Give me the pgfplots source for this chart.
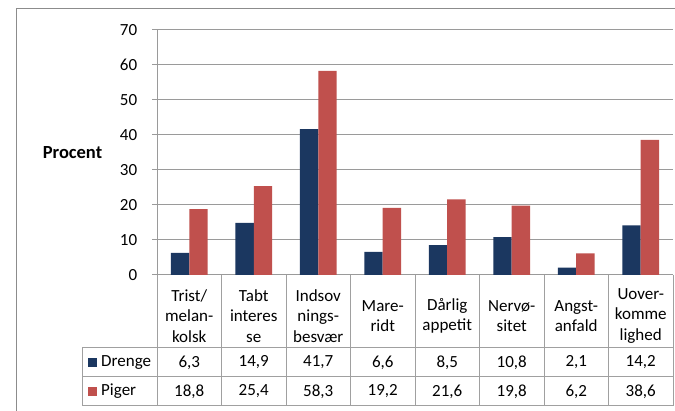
\documentclass[border=0pt]{standalone}
\usepackage{pgfplots}
\pgfplotsset{compat=1.18}
\usepackage{fontspec}
\setmainfont{Carlito}
\definecolor{boys}{HTML}{1B3760}
\definecolor{girls}{HTML}{C0504D}
\definecolor{gridc}{HTML}{9A9A9A}
\definecolor{tabc}{HTML}{A0A0A0}
\definecolor{framec}{HTML}{8C8C8C}
\begin{document}
\fontsize{17}{20.5}\selectfont
\begin{tikzpicture}[x=1pt,y=1pt]
\useasboundingbox (0,0) rectangle (675,411);
\fill[white] (0,0) rectangle (675,411);
\draw[framec, line width=1pt] (16,0) -- (16,402) -- (676,402);
\begin{axis}[
  at={(157pt,136pt)}, anchor=south west, scale only axis,
  width=516pt, height=245pt,
  ybar=0pt, bar width=18.3pt,
  xmin=-0.5, xmax=7.5, ymin=0, ymax=70,
  ytick distance=10, xtick={0,...,7},
  xticklabels={{Trist/\\melan-\\kolsk},{Tabt\\interes\\se},{Indsov\\nings-\\besvær},{Mare-\\ridt},{Dårlig\\appetit},{Nervø-\\sitet},{Angst-\\anfald},{Uover-\\komme\\lighed}},
  tick label style={font=\fontsize{17}{20.5}\selectfont},
  xticklabel style={align=center, anchor=center, yshift=-36pt},
  x tick style={draw=none},
  axis x line*=bottom, axis y line*=left,
  axis line style={gridc, line width=1pt, -},
  ymajorgrids, grid style={gridc, line width=1pt},
  y tick style={gridc, line width=1pt},
  tick align=outside, major tick length=5pt,
  yticklabel style={xshift=-9pt},
  /pgf/number format/assume math mode=true,
  clip=false,
]
\addplot[fill=boys, draw=none] coordinates {(0,6.3) (1,14.9) (2,41.7) (3,6.6) (4,8.5) (5,10.8) (6,2.1) (7,14.2)};
\addplot[fill=girls, draw=none] coordinates {(0,18.8) (1,25.4) (2,58.3) (3,19.2) (4,21.6) (5,19.8) (6,6.2) (7,38.6)};
\end{axis}
% data table grid
\draw[tabc, line width=1pt] (82,63) -- (673,63) (82,34) -- (673,34) (82,5) -- (673,5) (82,63) -- (82,5);
\foreach \xx in {157,221.5,286,350.5,415,479.5,544,608.5,673} {\draw[tabc, line width=1pt] (\xx,136) -- (\xx,5);}
% legend keys
\fill[boys] (88,44) rectangle (97,53);
\fill[girls] (88,15) rectangle (97,24);
\node[anchor=west, inner sep=0pt] at (101,48.5) {Drenge};
\node[anchor=west, inner sep=0pt] at (101,19.5) {Piger};
% values
\node at (189.25,48.5) {6,3};   \node at (189.25,19.5) {18,8};
\node at (253.75,48.5) {14,9};  \node at (253.75,19.5) {25,4};
\node at (318.25,48.5) {41,7};  \node at (318.25,19.5) {58,3};
\node at (382.75,48.5) {6,6};   \node at (382.75,19.5) {19,2};
\node at (447.25,48.5) {8,5};   \node at (447.25,19.5) {21,6};
\node at (511.75,48.5) {10,8};  \node at (511.75,19.5) {19,8};
\node at (576.25,48.5) {2,1};   \node at (576.25,19.5) {6,2};
\node at (640.75,48.5) {14,2};  \node at (640.75,19.5) {38,6};
\node[font=\fontsize{18.5}{22}\selectfont\bfseries] at (72.5,258) {Procent};
\end{tikzpicture}
\end{document}
